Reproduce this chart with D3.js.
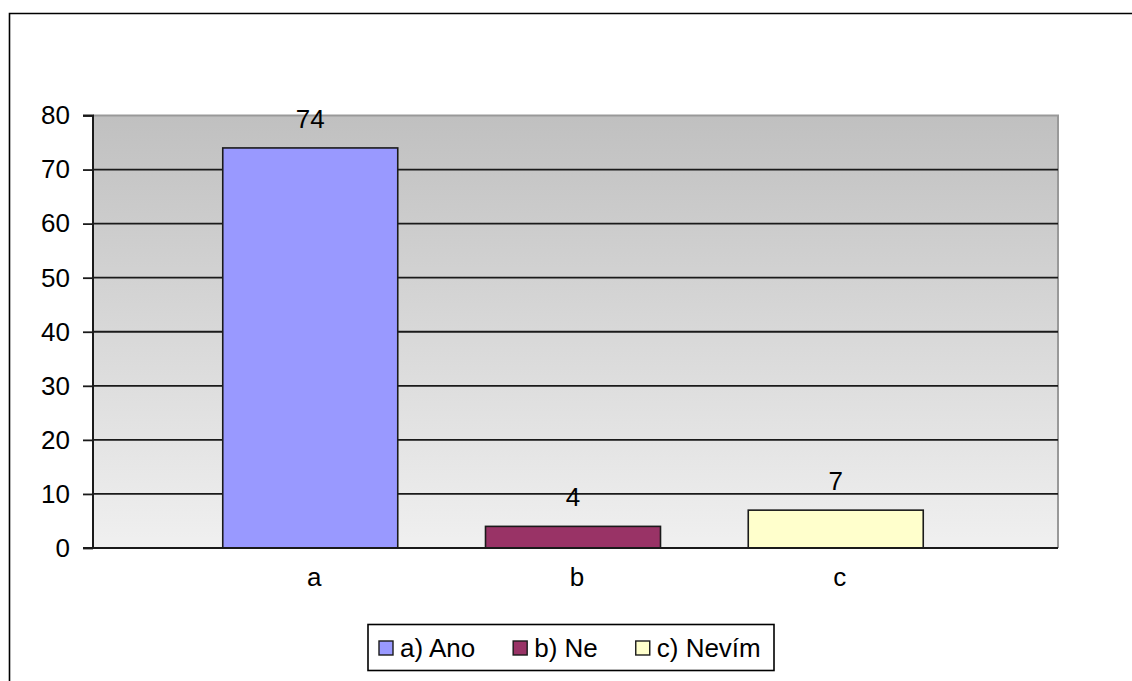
<!DOCTYPE html>
<html>
<head>
<meta charset="utf-8">
<script src="https://cdn.jsdelivr.net/npm/d3@7/dist/d3.min.js"></script>
<style>
  html, body { margin: 0; padding: 0; background: #fff; }
  svg { display: block; font-family: "Liberation Sans", Arial, sans-serif; }
</style>
</head>
<body>
<svg id="chart" width="1132" height="681"></svg>
<script>
// Survey answers
const categories = ["a", "b", "c"];
const values = [74, 4, 7];
const seriesNames = ["a) Ano", "b) Ne", "c) Nevím"];
const colors = ["#9999ff", "#993366", "#ffffcc"];
const yTicks = [0, 10, 20, 30, 40, 50, 60, 70, 80];

const W = 1132, H = 681;
const plot = { left: 93, right: 1058, top: 115.5, bottom: 548 };
const FONT = 26;

const svg = d3.select("#chart");

// Outer chart frame (left and top edges visible)
svg.append("path")
  .attr("d", `M9.5,${H} L9.5,13.5 L${W},13.5`)
  .attr("fill", "none").attr("stroke", "#000").attr("stroke-width", 1.6);

const y = d3.scaleLinear().domain([0, 80]).range([plot.bottom, plot.top]);
const x = d3.scaleBand().domain(categories)
  .range([135, 1011]).paddingInner(0.334).paddingOuter(0.334);

// Plot area background gradient
const defs = svg.append("defs");
const grad = defs.append("linearGradient").attr("id", "bg")
  .attr("x1", 0).attr("y1", 0).attr("x2", 0).attr("y2", 1);
grad.append("stop").attr("offset", "0%").attr("stop-color", "#c0c0c0");
grad.append("stop").attr("offset", "100%").attr("stop-color", "#f0f0f0");

svg.append("rect")
  .attr("x", plot.left).attr("y", plot.top)
  .attr("width", plot.right - plot.left).attr("height", plot.bottom - plot.top)
  .attr("fill", "url(#bg)");

// Plot border: top and right in gray
svg.append("path")
  .attr("d", `M${plot.left},${plot.top} L${plot.right},${plot.top} L${plot.right},${plot.bottom}`)
  .attr("fill", "none").attr("stroke", "#999").attr("stroke-width", 2);

// Horizontal gridlines
svg.append("g").selectAll("line")
  .data(yTicks.filter(d => d > 0 && d < 80))
  .join("line")
  .attr("x1", plot.left).attr("x2", plot.right)
  .attr("y1", d => y(d)).attr("y2", d => y(d))
  .attr("stroke", "#1a1a1a").attr("stroke-width", 1.8);

// Bars
svg.append("g").selectAll("rect")
  .data(values)
  .join("rect")
  .attr("x", (d, i) => x(categories[i]))
  .attr("y", d => y(d))
  .attr("width", x.bandwidth())
  .attr("height", d => y(0) - y(d))
  .attr("fill", (d, i) => colors[i])
  .attr("stroke", "#1a1a1a").attr("stroke-width", 1.6);

// Value labels
svg.append("g").selectAll("text")
  .data(values)
  .join("text")
  .attr("x", (d, i) => x(categories[i]) + x.bandwidth() / 2)
  .attr("y", d => y(d) - 20)
  .attr("text-anchor", "middle")
  .attr("font-size", FONT)
  .attr("fill", "#000")
  .text(d => d);

// Y axis
const yAxis = d3.axisLeft(y).tickValues(yTicks).tickSize(10).tickPadding(13);
const gy = svg.append("g").attr("transform", `translate(${plot.left},0)`).call(yAxis);
gy.select(".domain").attr("stroke", "#1a1a1a").attr("stroke-width", 2)
  .attr("d", `M-10,${plot.top}H0V${plot.bottom}H-10`);
gy.selectAll(".tick line").attr("stroke", "#1a1a1a").attr("stroke-width", 1.8);
gy.selectAll(".tick text").attr("font-size", FONT).attr("fill", "#000")
  .attr("font-family", "'Liberation Sans', Arial, sans-serif");

// X axis
const xAxis = d3.axisBottom(x).tickSize(0).tickPadding(20);
const gx = svg.append("g").attr("transform", `translate(0,${plot.bottom})`).call(xAxis);
gx.select(".domain").attr("stroke", "#1a1a1a").attr("stroke-width", 2)
  .attr("d", `M${plot.left},0H${plot.right}`);
gx.selectAll(".tick text").attr("font-size", FONT).attr("fill", "#000")
  .attr("dx", 4)
  .attr("font-family", "'Liberation Sans', Arial, sans-serif");

// Legend
const legend = svg.append("g");
const box = legend.append("rect")
  .attr("x", 368).attr("y", 624.5).attr("width", 406).attr("height", 46)
  .attr("fill", "#fff").attr("stroke", "#000").attr("stroke-width", 1.6);

let cx = 379;
const midY = 648;
seriesNames.forEach((name, i) => {
  legend.append("rect")
    .attr("x", cx).attr("y", midY - 7).attr("width", 14).attr("height", 14)
    .attr("fill", colors[i]).attr("stroke", "#1a1a1a").attr("stroke-width", 1.4);
  const t = legend.append("text")
    .attr("x", cx + 21).attr("y", midY + 9)
    .attr("font-size", FONT).attr("fill", "#000")
    .text(name);
  const w = t.node().getComputedTextLength();
  cx = cx + 21 + w + 38;
});
</script>
</body>
</html>
